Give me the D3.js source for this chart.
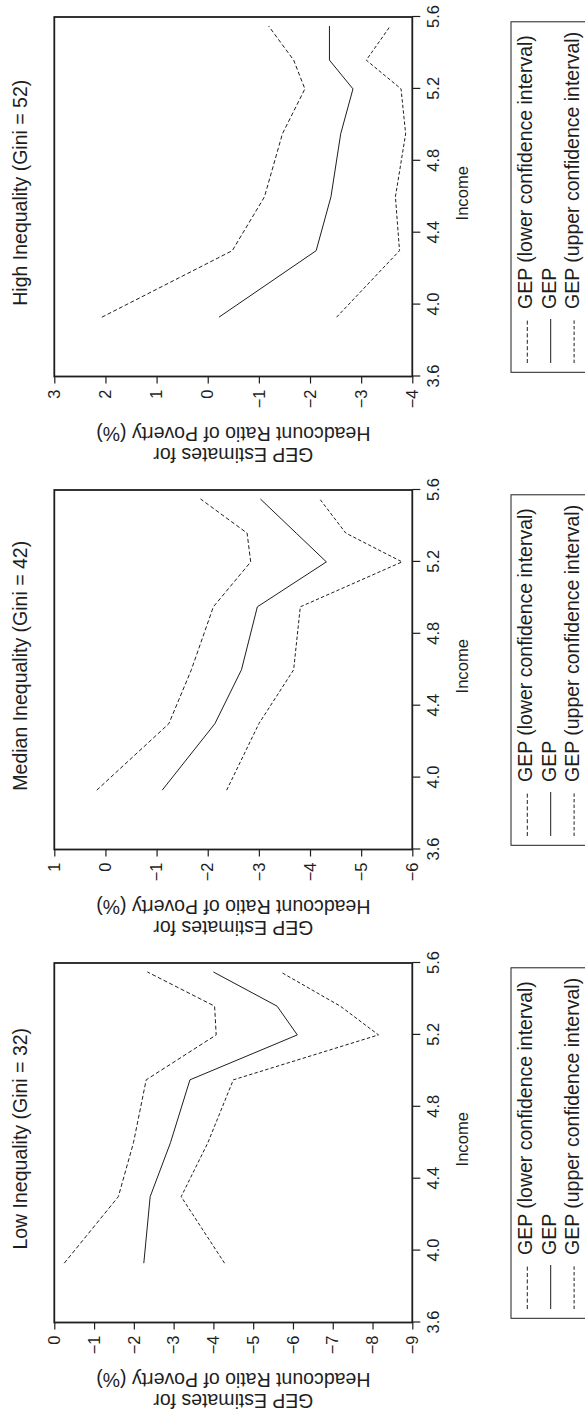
<!DOCTYPE html>
<html>
<head>
<meta charset="utf-8">
<script src="https://cdn.jsdelivr.net/npm/d3@7"></script>
<style>
  html, body { margin: 0; padding: 0; background: #fff; }
  svg { display: block; }
  text { font-family: "Liberation Sans", Arial, Helvetica, sans-serif; fill: #1e1e1e; }
</style>
</head>
<body>
<div id="chart"></div>
<script>
// income points shared by all three panels
const income = [3.93, 4.3, 4.6, 4.95, 5.2, 5.36, 5.55];
const incomeTicks = [3.6, 4.0, 4.4, 4.8, 5.2, 5.6];

const panelTitles = ['Low Inequality (Gini = 32)', 'Median Inequality (Gini = 42)', 'High Inequality (Gini = 52)'];
const yDomains = [[-9, 0], [-6, 1], [-4, 3]];

const lowLower = [-0.25, -1.61, -1.99, -2.31, -4.07, -4.03, -2.34];
const lowGep = [-2.25, -2.41, -2.92, -3.41, -6.11, -5.60, -4.00];
const lowUpper = [-4.28, -3.19, -3.86, -4.50, -8.15, -7.19, -5.69];

const medLower = [0.17, -1.24, -1.68, -2.11, -2.84, -2.77, -1.86];
const medGep = [-1.11, -2.14, -2.66, -2.97, -4.32, -3.73, -3.03];
const medUpper = [-2.37, -3.0, -3.68, -3.81, -5.80, -4.70, -4.19];

const highLower = [2.07, -0.48, -1.11, -1.46, -1.90, -1.68, -1.19];
const highGep = [-0.22, -2.12, -2.41, -2.60, -2.84, -2.38, -2.38];
const highUpper = [-2.52, -3.75, -3.67, -3.87, -3.78, -3.10, -3.57];

const panelSeries = [
    [lowLower, lowGep, lowUpper],
    [medLower, medGep, medUpper],
    [highLower, highGep, highUpper]
];

const legendLabels = ['GEP (lower confidence interval)', 'GEP', 'GEP (upper confidence interval)'];
const dashes = ['4,2.4', null, '3.4,2.2'];

const W = 585, H = 1418;
// the figure is drawn landscape and turned a quarter turn counter-clockwise
const LW = H;
const panelLeft = [95.5, 568.5, 1041.5];
const frameW = 359.5;
const frameTop = 54.3, frameBottom = 412.3;
const ink = '#1e1e1e';

const svg = d3.select('#chart').append('svg')
    .attr('width', W)
    .attr('height', H);

const land = svg.append('g')
    .attr('transform', `translate(0,${LW}) rotate(-90)`);

const fmt = d => d < 0 ? '\u2212' + Math.abs(d) : String(d);

panelTitles.forEach((title, i) => {
    const x0 = panelLeft[i];
    const x = d3.scaleLinear().domain([3.6, 5.6]).range([x0, x0 + frameW]);
    const y = d3.scaleLinear().domain(yDomains[i]).range([frameBottom, frameTop]);
    const g = land.append('g');
    const cx = x0 + frameW / 2;

    // y axis (left in landscape)
    const yAxis = g.append('g')
        .attr('transform', `translate(${x0},0)`)
        .call(d3.axisLeft(y).tickValues(d3.range(yDomains[i][0], yDomains[i][1] + 1))
            .tickSize(7).tickPadding(6).tickFormat(fmt));
    yAxis.select('.domain').remove();
    yAxis.selectAll('line').attr('stroke', ink).attr('stroke-width', 1.2);
    yAxis.selectAll('text').attr('font-size', 16.4).attr('fill', ink)
        .style('font-family', '"Liberation Sans", Arial, sans-serif');

    // income axis (bottom in landscape)
    const xAxis = g.append('g')
        .attr('transform', `translate(0,${frameBottom})`)
        .call(d3.axisBottom(x).tickValues(incomeTicks).tickSize(8).tickPadding(7).tickFormat(d3.format('.1f')));
    xAxis.select('.domain').remove();
    xAxis.selectAll('line').attr('stroke', ink).attr('stroke-width', 1.2);
    xAxis.selectAll('text').attr('font-size', 16.4).attr('fill', ink)
        .style('font-family', '"Liberation Sans", Arial, sans-serif');

    // frame
    g.append('rect')
        .attr('x', x0).attr('y', frameTop)
        .attr('width', frameW).attr('height', frameBottom - frameTop)
        .attr('fill', 'none').attr('stroke', ink).attr('stroke-width', 1.8);

    // series
    const line = d3.line().x((d, k) => x(income[k])).y(d => y(d));
    panelSeries[i].forEach((vals, s) => {
        g.append('path')
            .datum(vals)
            .attr('d', line)
            .attr('fill', 'none')
            .attr('stroke', ink)
            .attr('stroke-width', 1)
            .attr('stroke-dasharray', dashes[s]);
    });

    // title
    g.append('text')
        .attr('x', cx + 4).attr('y', 27.3)
        .attr('text-anchor', 'middle')
        .attr('font-size', 19.5)
        .text(title);

    // axis titles
    g.append('text')
        .attr('x', cx + 3.5).attr('y', 468)
        .attr('text-anchor', 'middle')
        .attr('font-size', 16.6)
        .text('Income');

    const yt = g.append('g')
        .attr('transform', `translate(${x0 - 50.2},${(frameTop + frameBottom) / 2}) rotate(-90)`);
    yt.append('text').attr('text-anchor', 'middle').attr('y', -21.6)
        .attr('font-size', 19.5).text('GEP Estimates for');
    yt.append('text').attr('text-anchor', 'middle').attr('y', 0)
        .attr('font-size', 19.5).text('Headcount Ratio of Poverty (%)');

    // legend box, cut by the page edge like the source
    const lg = g.append('g').attr('transform', `translate(${x0 + 4.2},511)`);
    lg.append('rect')
        .attr('width', frameW - 9).attr('height', 120)
        .attr('fill', 'none').attr('stroke', ink).attr('stroke-width', 1);
    legendLabels.forEach((lab, s) => {
        const ly = 16.3 + s * 23.4;
        lg.append('line')
            .attr('x1', 9.3).attr('x2', 53.3)
            .attr('y1', ly).attr('y2', ly)
            .attr('stroke', ink).attr('stroke-width', 1)
            .attr('stroke-dasharray', dashes[s]);
        lg.append('text')
            .attr('x', 63.3).attr('y', ly + 5)
            .attr('font-size', 19.5)
            .text(lab);
    });
});
</script>
</body>
</html>
